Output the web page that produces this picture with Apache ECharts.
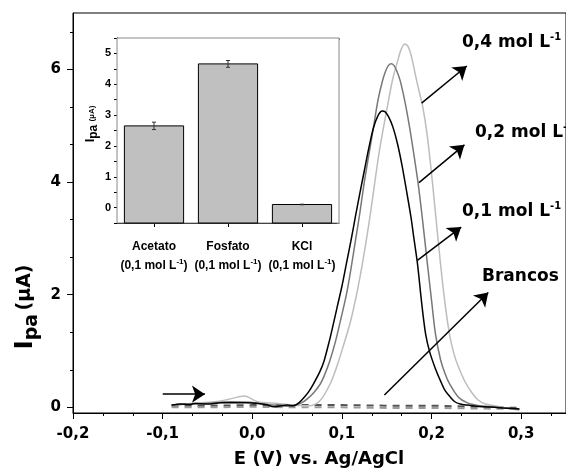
<!DOCTYPE html>
<html><head><meta charset="utf-8">
<script src="https://cdn.jsdelivr.net/npm/echarts@6/dist/echarts.min.js"></script>
<style>html,body{margin:0;padding:0;background:#fff}#c{width:566px;height:470px}</style>
</head><body><div id="c"></div>
<script>
// ---- main axes tick labels
const xTickLabels = [-0.2, -0.1, 0.0, 0.1, 0.2, 0.3];
const yTickLabels = [0, 2, 4, 6];
// ---- inset
const insetCats = ['Acetato', 'Fosfato', 'KCl'];
const insetVals = [2.65, 4.66, 0.10];
const insetErr = [0.12, 0.11, 0.01];
const insetYTickLabels = [0, 1, 2, 3, 4, 5];

// ---- 0,1 mol L-1 (black)
const blackE = [-0.09,-0.08,-0.07,-0.064,-0.05,-0.035,-0.02,-0.006,0.006,0.015,0.024,0.032,0.039,0.046,0.052,0.058,0.063,0.068,0.075,0.08,0.086,0.09,0.095,0.10,0.105,0.11,0.115,0.12,0.125,0.13,0.135,0.14,0.145,0.148,0.152,0.157,0.162,0.167,0.172,0.177,0.1805,0.1843,0.189,0.1934,0.198,0.204,0.210,0.215,0.220,0.226,0.232,0.24,0.25,0.26,0.27,0.28,0.29,0.298];
const blackI = [0.04,0.06,0.05,0.07,0.06,0.08,0.08,0.08,0.07,0.05,0.01,0.03,0.04,0.03,0.08,0.18,0.28,0.41,0.62,0.82,1.18,1.45,1.8,2.15,2.55,2.95,3.38,3.8,4.2,4.6,4.95,5.17,5.26,5.25,5.16,4.97,4.68,4.3,3.85,3.38,2.98,2.55,1.85,1.3,0.98,0.7,0.47,0.3,0.2,0.1,0.06,0.04,0.02,0.01,0.0,-0.01,-0.02,-0.03];
// ---- 0,2 mol L-1 (dark gray)
const dgrayE = [-0.09,-0.075,-0.053,-0.035,-0.024,-0.002,0.017,0.03,0.039,0.046,0.055,0.062,0.069,0.0757,0.08,0.086,0.093,0.10,0.105,0.11,0.115,0.12,0.125,0.1309,0.1355,0.1401,0.145,0.149,0.152,0.155,0.158,0.161,0.165,0.17,0.175,0.18,0.185,0.19,0.195,0.20,0.2044,0.21,0.215,0.22,0.23,0.24,0.25,0.26,0.275,0.29,0.298];
const dgrayI = [0.04,0.06,0.07,0.09,0.1,0.09,0.05,0.03,0.02,0.03,0.08,0.16,0.27,0.41,0.55,0.8,1.18,1.65,2.0,2.45,2.95,3.45,4.0,4.56,5.0,5.44,5.78,5.98,6.07,6.1,6.07,5.98,5.8,5.45,5.02,4.52,3.98,3.32,2.6,1.9,1.3,0.85,0.6,0.42,0.18,0.08,0.04,0.02,0.0,-0.02,-0.03];
// ---- 0,4 mol L-1 (light gray)
const lgrayE = [-0.09,-0.0878,-0.0677,-0.0418,-0.0272,-0.0088,0.006,0.028,0.046,0.057,0.0647,0.0757,0.0867,0.094,0.101,0.11,0.12,0.13,0.1419,0.1512,0.157,0.1622,0.166,0.170,0.174,0.178,0.182,0.186,0.19,0.195,0.20,0.205,0.21,0.215,0.22,0.225,0.23,0.2375,0.245,0.252,0.26,0.27,0.28,0.29,0.298];
const lgrayI = [0.03,0.04,0.07,0.1,0.14,0.2,0.1,0.07,0.04,0.03,0.03,0.12,0.41,0.71,1.06,1.55,2.3,3.25,4.56,5.38,5.85,6.15,6.35,6.45,6.4,6.2,5.9,5.62,5.35,4.85,4.15,3.35,2.55,1.85,1.3,0.95,0.72,0.45,0.26,0.13,0.06,0.03,0.0,-0.03,-0.05];
// ---- Brancos (dashed)
const blank1E = [-0.09,-0.05,0.0,0.05,0.1,0.15,0.2,0.25,0.3];
const blank1I = [0.03,0.03,0.04,0.04,0.04,0.03,0.03,0.01,-0.01];
const blank2E = [-0.09,-0.05,0.0,0.05,0.1,0.15,0.2,0.25,0.3];
const blank2I = [0.0,0.0,0.01,0.0,0.0,-0.01,-0.01,-0.02,-0.03];

// ---- annotation arrows (data coordinates)
const arrowFrom = [[0.1889,5.40],[0.1860,3.99],[0.1842,2.61],[0.1474,0.22],[-0.0999,0.235]];
const arrowTo   = [[0.2393,6.06],[0.2367,4.66],[0.2331,3.20],[0.2633,2.04],[-0.0528,0.235]];

const zip = (a, b) => a.map((v, i) => [v, b[i]]);
const minorOf = (majors, step, max) => {
  const out = [];
  majors.forEach(m => { for (let k = 1; k < 3; k++) { const v = m + step * k / 3; if (v < max) out.push(+v.toFixed(4)); } });
  return out;
};
const xMinor = minorOf(xTickLabels, 0.1, 0.35);
const yMinor = minorOf(yTickLabels, 2, 7);
const insetTicks = [-0.5,0,0.5,1,1.5,2,2.5,3,3.5,4,4.5,5,5.5];

const MF = 'DejaVu Sans';
const IF = 'Liberation Sans';

const chart = echarts.init(document.getElementById('c'), null, {renderer: 'canvas'});
const lineSeries = (name, data, color, dashed) => ({
  name, type: 'line', xAxisIndex: 0, yAxisIndex: 0, data,
  showSymbol: false, smooth: dashed ? false : 0.3, clip: false,
  lineStyle: {color, width: dashed ? 2 : 1.5, type: dashed ? [7, 6] : 'solid'},
  z: 3
});

chart.setOption({
  animation: false,
  backgroundColor: '#fff',
  grid: [
    {left: 73, top: 13, width: 499, height: 400, show: true, borderColor: '#000', borderWidth: 1, backgroundColor: 'transparent'},
    {left: 117, top: 38, width: 222, height: 185, show: true, borderColor: '#888', borderWidth: 1, backgroundColor: '#fff', z: 1}
  ],
  xAxis: [
    {gridIndex: 0, type: 'value', min: -0.2, max: 0.35, position: 'bottom',
     axisLine: {show: true, onZero: false, lineStyle: {color: '#000', width: 1}},
     axisTick: {show: true, customValues: xTickLabels, length: 6, lineStyle: {color: '#000', width: 1}},
     axisLabel: {customValues: xTickLabels, margin: 14, color: '#000', fontFamily: MF, fontWeight: 'bold', fontSize: 15,
       formatter: v => (Math.round(v * 10) / 10).toFixed(1).replace('.', ',')},
     splitLine: {show: false}},
    {gridIndex: 0, type: 'value', min: -0.2, max: 0.35, position: 'bottom',
     axisLine: {show: false, onZero: false}, axisLabel: {show: false}, splitLine: {show: false},
     axisTick: {show: true, customValues: xMinor, length: 3, lineStyle: {color: '#000'}}},
    {gridIndex: 1, type: 'category', data: insetCats, position: 'bottom',
     axisLine: {show: true, onZero: false, lineStyle: {color: '#000'}},
     axisTick: {show: true, alignWithLabel: true, length: 4, lineStyle: {color: '#000'}},
     axisLabel: {margin: 14, interval: 0,
       formatter: v => '{b|' + v + '}\n{b|(0,1 mol L}{s|-1}{b|)}',
       rich: {b: {fontFamily: IF, fontWeight: 'bold', fontSize: 12, color: '#000', lineHeight: 19},
              s: {fontFamily: IF, fontWeight: 'bold', fontSize: 8, color: '#000', padding: [0, 0, 8, 0]}}}},
    {gridIndex: 1, type: 'value', min: -0.5, max: 2.5, position: 'top',
     axisLine: {show: false, onZero: false}, axisLabel: {show: false}, splitLine: {show: false},
     axisTick: {show: true, inside: true, customValues: [-0.5,0,0.5,1,1.5,2,2.5], length: 2, lineStyle: {color: '#888'}}}
  ],
  yAxis: [
    {gridIndex: 0, type: 'value', min: -0.1, max: 7, position: 'left',
     axisLine: {show: true, onZero: false, lineStyle: {color: '#000', width: 1}},
     axisTick: {show: true, customValues: yTickLabels, length: 6, lineStyle: {color: '#000'}},
     axisLabel: {customValues: yTickLabels, margin: 12, color: '#000', fontFamily: MF, fontWeight: 'bold', fontSize: 15},
     splitLine: {show: false}},
    {gridIndex: 0, type: 'value', min: -0.1, max: 7, position: 'left',
     axisLine: {show: false, onZero: false}, axisLabel: {show: false}, splitLine: {show: false},
     axisTick: {show: true, customValues: yMinor, length: 3, lineStyle: {color: '#000'}}},
    {gridIndex: 1, type: 'value', min: -0.5, max: 5.5, position: 'left',
     axisLine: {show: true, onZero: false, lineStyle: {color: '#000'}},
     axisTick: {show: true, customValues: insetTicks, length: 3, lineStyle: {color: '#000'}},
     axisLabel: {customValues: insetYTickLabels, margin: 6, color: '#000', fontFamily: IF, fontWeight: 'bold', fontSize: 11},
     splitLine: {show: false}},
    {gridIndex: 1, type: 'value', min: -0.5, max: 5.5, position: 'right',
     axisLine: {show: false, onZero: false}, axisLabel: {show: false}, splitLine: {show: false},
     axisTick: {show: true, inside: true, customValues: insetTicks, length: 2, lineStyle: {color: '#888'}}}
  ],
  series: [
    lineSeries('Branco 1', zip(blank1E, blank1I), '#555', true),
    lineSeries('Branco 2', zip(blank2E, blank2I), '#9a9a9a', true),
    lineSeries('0,4 mol L-1', zip(lgrayE, lgrayI), '#bdbdbd', false),
    lineSeries('0,2 mol L-1', zip(dgrayE, dgrayI), '#787878', false),
    lineSeries('0,1 mol L-1', zip(blackE, blackI), '#000', false),
    {type: 'lines', coordinateSystem: 'cartesian2d', xAxisIndex: 0, yAxisIndex: 0, z: 5,
     symbol: ['none', 'arrow'], symbolSize: [10, 13],
     lineStyle: {color: '#000', width: 1.5, opacity: 1, curveness: 0},
     itemStyle: {color: '#000'},
     data: arrowFrom.map((p, i) => ({coords: [p, arrowTo[i]]}))},
    {type: 'custom', xAxisIndex: 2, yAxisIndex: 2, z: 4,
     data: insetVals.map((v, i) => [i, v, insetErr[i]]),
     renderItem: (params, api) => {
       const i = api.value(0), v = api.value(1), e = api.value(2);
       const top = api.coord([i, v]);
       const base = api.coord([i, -0.5]);
       const w = api.size([1, 0])[0] * 0.8;
       const t = api.coord([i, v + e]), b = api.coord([i, v - e]);
       return {type: 'group', children: [
         {type: 'rect', shape: {x: top[0] - w / 2, y: top[1], width: w, height: base[1] - top[1]},
          style: {fill: '#c0c0c0', stroke: '#000', lineWidth: 1}},
         {type: 'line', shape: {x1: top[0], y1: t[1], x2: top[0], y2: b[1]}, style: {stroke: '#333', lineWidth: 1}},
         {type: 'line', shape: {x1: top[0] - 2, y1: t[1], x2: top[0] + 2, y2: t[1]}, style: {stroke: '#333', lineWidth: 1}},
         {type: 'line', shape: {x1: top[0] - 2, y1: b[1], x2: top[0] + 2, y2: b[1]}, style: {stroke: '#333', lineWidth: 1}}
       ]};
     }}
  ],
  graphic: [
    {type: 'text', x: 319, y: 459, z: 10, style: {text: 'E (V) vs. Ag/AgCl', font: 'bold 18px "DejaVu Sans"', fill: '#000', align: 'center', verticalAlign: 'middle'}},
    {type: 'text', x: 25, y: 307, rotation: Math.PI / 2, z: 10, style: {
      text: '{I|I}{p|pa} {u|(µA)}', align: 'center', verticalAlign: 'middle',
      rich: {I: {fontFamily: MF, fontWeight: 'bold', fontSize: 25, fill: '#000'},
             p: {fontFamily: MF, fontWeight: 'bold', fontSize: 19, fill: '#000', padding: [14, 0, 0, 0]},
             u: {fontFamily: MF, fontWeight: 'bold', fontSize: 19, fill: '#000'}}}},
    {type: 'text', x: 90, y: 124, rotation: Math.PI / 2, z: 10, style: {
      text: '{I|I}{p|pa} {u|(µA)}', align: 'center', verticalAlign: 'middle',
      rich: {I: {fontFamily: IF, fontWeight: 'bold', fontSize: 13, fill: '#000'},
             p: {fontFamily: IF, fontWeight: 'bold', fontSize: 12, fill: '#000', padding: [8, 0, 0, 0]},
             u: {fontFamily: IF, fontWeight: 'bold', fontSize: 8, fill: '#000', padding: [3, 0, 0, 0]}}}},
    {type: 'text', x: 462, y: 43, z: 10, style: {text: '{b|0,4 mol L}{s|-1}', verticalAlign: 'middle',
      rich: {b: {fontFamily: MF, fontWeight: 'bold', fontSize: 17, fill: '#000'}, s: {fontFamily: MF, fontWeight: 'bold', fontSize: 10, fill: '#000', padding: [0, 0, 12, 0]}}}},
    {type: 'text', x: 475, y: 133, z: 10, style: {text: '{b|0,2 mol L}{s|-1}', verticalAlign: 'middle',
      rich: {b: {fontFamily: MF, fontWeight: 'bold', fontSize: 17, fill: '#000'}, s: {fontFamily: MF, fontWeight: 'bold', fontSize: 10, fill: '#000', padding: [0, 0, 12, 0]}}}},
    {type: 'text', x: 462, y: 212, z: 10, style: {text: '{b|0,1 mol L}{s|-1}', verticalAlign: 'middle',
      rich: {b: {fontFamily: MF, fontWeight: 'bold', fontSize: 17, fill: '#000'}, s: {fontFamily: MF, fontWeight: 'bold', fontSize: 10, fill: '#000', padding: [0, 0, 12, 0]}}}},
    {type: 'text', x: 482, y: 277, z: 10, style: {text: 'Brancos', font: 'bold 17px "DejaVu Sans"', fill: '#000', verticalAlign: 'middle'}}
  ]
});
</script>
</body></html>
